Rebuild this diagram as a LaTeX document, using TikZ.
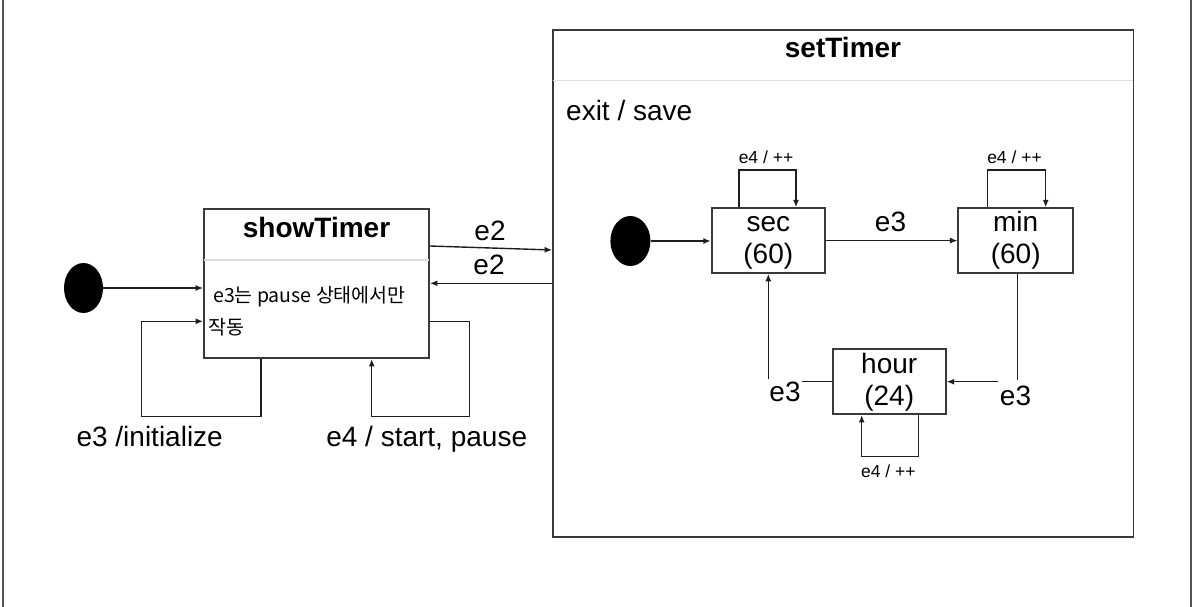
\documentclass[tikz,border=0pt]{standalone}
\usepackage{fontspec}
\setmainfont{Liberation Sans}
\newfontfamily\krfont{Noto Sans CJK KR}
\usetikzlibrary{arrows.meta,shapes.geometric,calc}
\definecolor{boxc}{HTML}{3A3A3A}
\definecolor{sepc}{HTML}{DCDCDC}
\definecolor{framec}{HTML}{555555}
\definecolor{connc}{HTML}{1E1E1E}
\begin{document}
\begin{tikzpicture}[x=1pt,y=-1pt,
  statebox/.style={draw=boxc, line width=1.8pt, inner sep=0pt, fill=white},
  conn/.style={draw=connc, line width=1.4pt, -{Latex[length=7.5pt,width=6pt]}},
  sepline/.style={draw=sepc, line width=1.6pt},
  initdot/.style={ellipse, fill=black, inner sep=0pt},
  big/.style={font=\fontsize{28}{32}\selectfont, inner sep=0pt, anchor=base},
  bigb/.style={font=\fontsize{28}{32}\selectfont\bfseries, inner sep=0pt, anchor=base},
  small/.style={font=\fontsize{17.5}{20}\selectfont, inner sep=0pt, anchor=base},
  kr/.style={font=\fontsize{19.5}{23}\selectfont\krfont, inner sep=0pt, anchor=base west},
  cornerlbl/.style={big, fill=white, inner xsep=1.5pt, inner ysep=3pt}
]
\useasboundingbox (0,0) rectangle (1194,607);
\fill[white] (0,0) rectangle (1194,607);
% outer frame lines
\draw[framec, line width=1.5pt] (3,0) -- (3,607);
\draw[framec, line width=1.5pt] (1191,0) -- (1191,607);

% composite / state boxes
\node[statebox, minimum width=225pt, minimum height=149pt] (showT) at (316.5,283.5) {};
\node[statebox, minimum width=580.5pt, minimum height=507pt] (setT) at (843.25,283.5) {};
\draw[sepline] ($(showT.west |- 0,260)+(1,0)$) -- ($(showT.east |- 0,260)+(-1,0)$);
\draw[sepline] ($(setT.west |- 0,80.7)+(1,0)$) -- ($(setT.east |- 0,80.7)+(-1,0)$);

\node[statebox, minimum width=113.3pt, minimum height=64.7pt] (sec) at (768.3,240.6) {};
\node[statebox, minimum width=114.7pt, minimum height=64.7pt] (min) at (1015.7,240.6) {};
\node[statebox, minimum width=113pt, minimum height=64.7pt] (hour) at (889.2,381.7) {};

% initial pseudo-states
\node[initdot, minimum width=39pt, minimum height=50pt] (dot1) at (83.5,288) {};
\node[initdot, minimum width=40pt, minimum height=50pt] (dot2) at (630.4,241) {};

% titles and texts
\node[bigb] (tShow) at (316.5,237.3) {showTimer};
\node[bigb] (tSet) at (843,57.7) {setTimer};
\node[big, anchor=base west] (tExit) at (566,121) {exit / save};
\node[kr] (tKr1) at (213,302) {e3는 pause 상태에서만};
\node[kr] (tKr2) at (208,334) {작동};
\node[big] (tSec1) at (768.3,231.7) {sec};
\node[big] (tSec2) at (768.3,263) {(60)};
\node[big] (tMin1) at (1015.7,231.7) {min};
\node[big] (tMin2) at (1015.7,263) {(60)};
\node[big] (tHour1) at (889.2,373) {hour};
\node[big] (tHour2) at (889.2,405.7) {(24)};

% connectors of the top level
\draw[conn] (dot1.east) -- (showT.west |- dot1.east);
\draw[conn] (showT.east |- 0,246) -- (setT.west |- 0,250);
\draw[conn] (setT.west |- 0,283.3) -- (showT.east |- 0,283.3);
\draw[conn] (showT.south -| 261,0) -- (261,416.7) -- (141.7,416.7) -- (141.7,321.3) -- (showT.west |- 0,321.3);
\draw[conn] (showT.east |- 0,321.3) -- (469.3,321.3) -- (469.3,416.7) -- (371.7,416.7) -- (showT.south -| 371.7,0);

% connectors inside setTimer
\draw[conn] (dot2.east) -- (sec.west |- dot2.east);
\draw[conn] (sec.east) -- (min.west);
\draw[conn] (sec.north -| 739,0) -- (739,170) -- (796,170) -- (sec.north -| 796,0);
\draw[conn] (min.north -| 987.7,0) -- (987.7,170) -- (1045.7,170) -- (min.north -| 1045.7,0);
\draw[conn] (hour.south -| 918.3,0) -- (918.3,456.7) -- (861.7,456.7) -- (hour.south -| 861.7,0);
\draw[conn] (min.south -| 1017.3,0) -- (1017.3,381.7) -- (hour.east);
\draw[conn] (hour.west) -- (768.3,381.7) -- (sec.south);

% transition labels
\node[big] (lE2a) at (490,240) {e2};
\node[big] (lE2b) at (489,274.9) {e2};
\node[big] (lInit) at (149.7,446.7) {e3 /initialize};
\node[big] (lStart) at (426.7,446.7) {e4 / start, pause};
\node[small] (lS) at (766,163.3) {e4 / ++};
\node[small] (lM) at (1014.5,163.3) {e4 / ++};
\node[small] (lH) at (888.3,477.3) {e4 / ++};
\node[big] (lE3a) at (890.5,231.7) {e3};
\node[cornerlbl] (lE3b) at (785,401.7) {e3};
\node[cornerlbl, inner ysep=5pt] (lE3c) at (1015.5,405) {e3};
\end{tikzpicture}
\end{document}
